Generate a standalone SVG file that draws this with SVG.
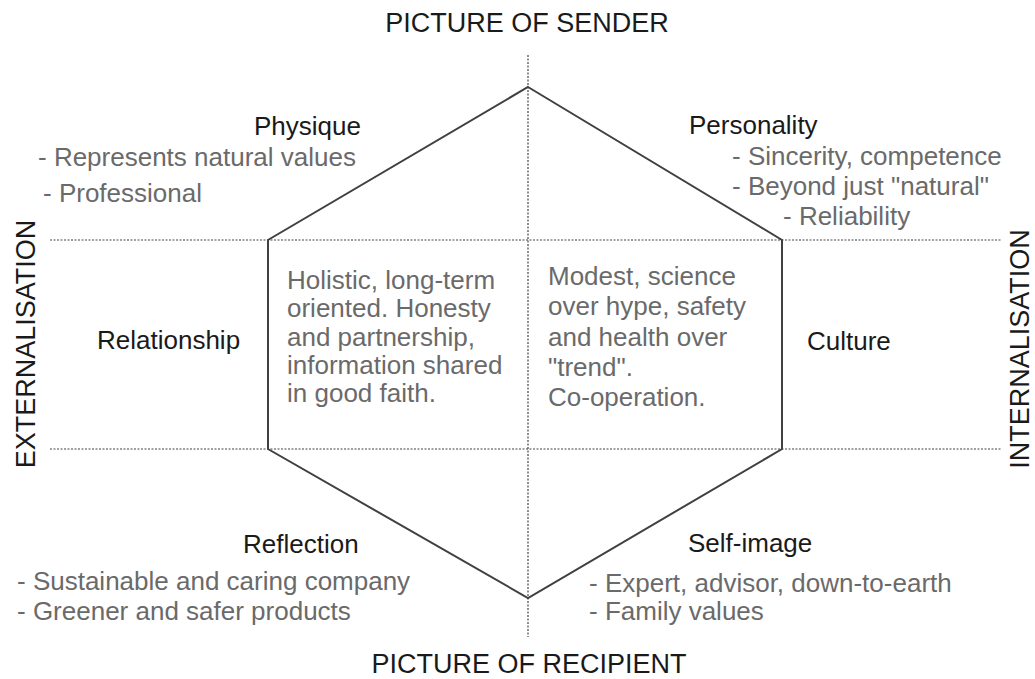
<svg xmlns="http://www.w3.org/2000/svg" width="1035" height="679" viewBox="0 0 1035 679">
<style>
text{font-family:"Liberation Sans",Arial,sans-serif}
.ttl{font-size:27px;fill:#1a1a1a}
.lbl{font-size:26px;fill:#1a1a1a}
.body{font-size:26px;fill:#6a6a6a}
.dash{stroke:#444;stroke-width:1.2;stroke-dasharray:2,1.5;fill:none}
.hex{stroke:#404040;stroke-width:2;fill:none;stroke-linejoin:miter}
</style>
<rect width="1035" height="679" fill="#fff"/>
<g id="connectors">
<line class="dash" x1="528" y1="55" x2="528" y2="637"/>
<line class="dash" x1="50" y1="240" x2="1002" y2="240"/>
<line class="dash" x1="50" y1="449" x2="1002" y2="449"/>
<polygon class="hex" points="528,87 782,240 782,449 528,598 268,449 268,240"/>
</g>
<g id="axis-top"><text class="ttl" x="527" y="32" text-anchor="middle">PICTURE OF SENDER</text></g>
<g id="axis-bottom"><text class="ttl" x="529" y="673" text-anchor="middle">PICTURE OF RECIPIENT</text></g>
<g id="axis-left"><text class="ttl" transform="translate(35,344) rotate(-90)" text-anchor="middle">EXTERNALISATION</text></g>
<g id="axis-right"><text class="ttl" transform="translate(1029,349) rotate(-90)" text-anchor="middle">INTERNALISATION</text></g>
<g id="physique">
<text class="lbl" x="254" y="135">Physique</text>
<text class="body" x="38" y="166">- Represents natural values</text>
<text class="body" x="43" y="202">- Professional</text>
</g>
<g id="personality">
<text class="lbl" x="689" y="134">Personality</text>
<text class="body" x="732" y="165">- Sincerity, competence</text>
<text class="body" x="732" y="195">- Beyond just "natural"</text>
<text class="body" x="783" y="225">- Reliability</text>
</g>
<g id="relationship">
<text class="lbl" x="97" y="349">Relationship</text>
<text class="body" x="287" y="289">Holistic, long-term</text>
<text class="body" x="287" y="317">oriented. Honesty</text>
<text class="body" x="287" y="346">and partnership,</text>
<text class="body" x="287" y="374">information shared</text>
<text class="body" x="287" y="402">in good faith.</text>
</g>
<g id="culture">
<text class="lbl" x="807" y="350">Culture</text>
<text class="body" x="548" y="285">Modest, science</text>
<text class="body" x="548" y="315">over hype, safety</text>
<text class="body" x="548" y="346">and health over</text>
<text class="body" x="548" y="376">"trend".</text>
<text class="body" x="548" y="406">Co-operation.</text>
</g>
<g id="reflection">
<text class="lbl" x="243" y="553">Reflection</text>
<text class="body" x="17" y="590">- Sustainable and caring company</text>
<text class="body" x="17" y="620">- Greener and safer products</text>
</g>
<g id="self-image">
<text class="lbl" x="688" y="552">Self-image</text>
<text class="body" x="589" y="592">- Expert, advisor, down-to-earth</text>
<text class="body" x="589" y="620">- Family values</text>
</g>
</svg>
